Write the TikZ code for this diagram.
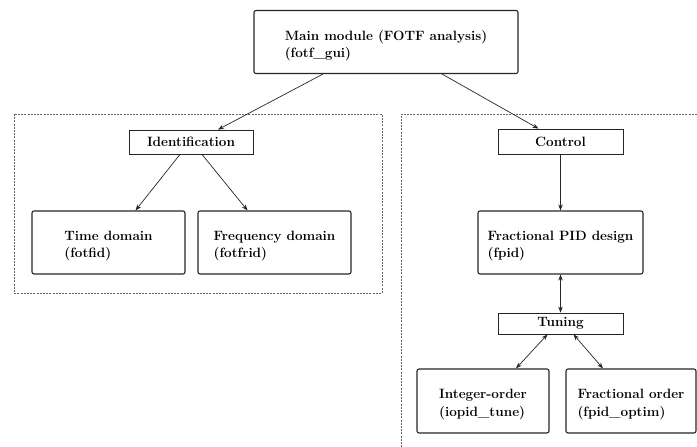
\documentclass[tikz,border=0pt]{standalone}
\usetikzlibrary{arrows.meta}
\begin{document}
\begin{tikzpicture}[x=1pt,y=-1pt,
  every node/.style={font=\fontsize{13.5}{17.5}\selectfont\bfseries, inner sep=0pt},
  module/.style={draw=black!85, line width=1.1pt, rounded corners=2pt},
  caption/.style={align=left, yshift=-3.5pt},
  group/.style={draw=black!85, line width=0.8pt},
  area/.style={draw=black!60, line width=0.7pt, dash pattern=on 2pt off 1.2pt},
  link/.style={draw=black!85, line width=0.7pt, -{Stealth[length=6pt,width=4.5pt]}},
  twoway/.style={draw=black!85, line width=0.7pt, {Stealth[length=6pt,width=4.5pt]}-{Stealth[length=6pt,width=4.5pt]}}]
\useasboundingbox (0,0) rectangle (697,447);

% dashed regions
\draw[area] (14,114) rectangle (382,293);
\draw[area] (401,460) -- (401,114) -- (710,114);

% top module
\node[module, minimum width=264pt, minimum height=63pt] (main) at (386,42) {};
\node[caption] (main-t) at (main.center) {Main module (FOTF analysis)\\(fotf\_gui)};

% identification branch
\node[group, minimum width=124pt, minimum height=24pt] (ident) at (191,142) {Identification};
\node[module, minimum width=153pt, minimum height=63pt] (time) at (108.5,242.5) {};
\node[caption] (time-t) at (time.center) {Time domain\\(fotfid)};
\node[module, minimum width=153pt, minimum height=63pt] (freq) at (274.5,242.5) {};
\node[caption] (freq-t) at (freq.center) {Frequency domain\\(fotfrid)};

% control branch
\node[group, minimum width=125pt, minimum height=25pt] (ctrl) at (560.5,141.5) {Control};
\node[module, minimum width=165pt, minimum height=63pt] (fpid) at (560.5,242.5) {};
\node[caption] (fpid-t) at (fpid.center) {Fractional PID design\\(fpid)};
\node[group, minimum width=125pt, minimum height=21pt] (tune) at (560.5,323.5) {Tuning};
\node[module, minimum width=132pt, minimum height=64pt] (iopid) at (483,401) {};
\node[caption] (iopid-t) at (iopid.center) {Integer-order\\(iopid\_tune)};
\node[module, minimum width=130pt, minimum height=64pt] (fopt) at (631,401) {};
\node[caption] (fopt-t) at (fopt.center) {Fractional order\\(fpid\_optim)};

% connectors
\draw[link] ([xshift=-63pt]main.south) -- ([xshift=27pt]ident.north);
\draw[link] ([xshift=56pt]main.south) -- ([xshift=-22pt]ctrl.north);
\draw[link] ([xshift=-11pt]ident.south) -- ([xshift=27pt]time.north);
\draw[link] ([xshift=11pt]ident.south) -- ([xshift=-27pt]freq.north);
\draw[link] (ctrl.south) -- (fpid.north);
\draw[twoway] (fpid.south) -- (tune.north);
\draw[twoway] ([xshift=-13pt]tune.south) -- ([xshift=33pt]iopid.north);
\draw[twoway] ([xshift=13pt]tune.south) -- ([xshift=-28pt]fopt.north);
\end{tikzpicture}
\end{document}
